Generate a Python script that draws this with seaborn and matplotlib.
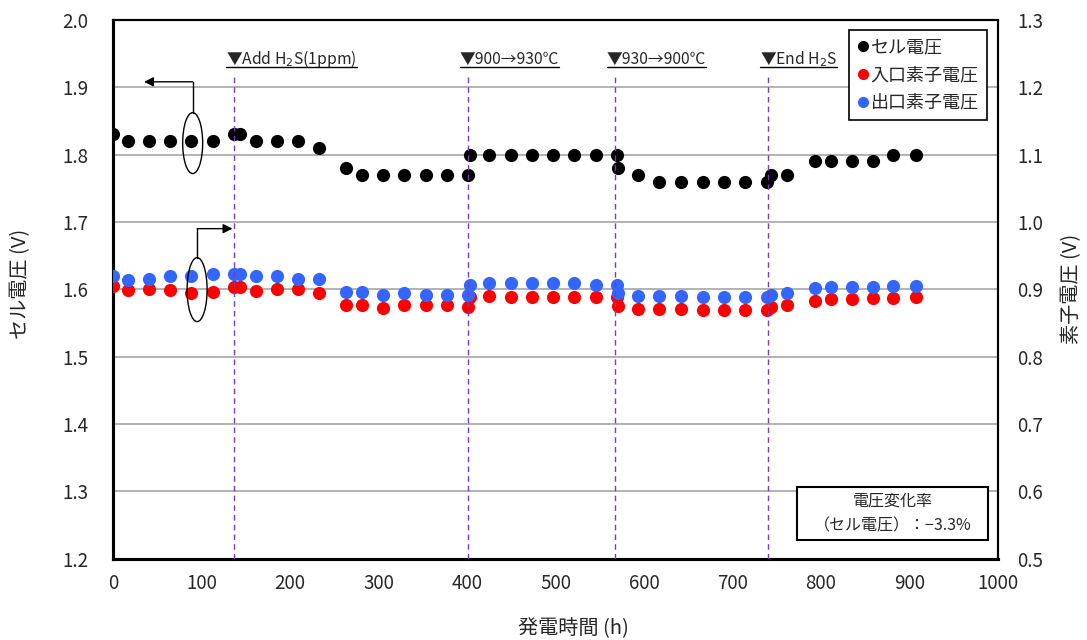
import pandas as pd
import seaborn as sns
import matplotlib.pyplot as plt
import matplotlib.transforms as mtransforms
from matplotlib.lines import Line2D
from matplotlib.patches import Ellipse, Rectangle

# データ
hours = [0, 17, 41, 64, 88, 113, 137, 143, 162, 185, 209, 233,
         263, 281, 305, 329, 354, 377, 401,
         403, 425, 450, 473, 497, 521, 546, 569,
         571, 593, 617, 642, 667, 690, 714, 739,
         744, 762,
         793, 811, 835, 859, 882, 907]
cell_v = [1.83, 1.82, 1.82, 1.82, 1.82, 1.82, 1.83, 1.83, 1.82, 1.82, 1.82, 1.81,
          1.78, 1.77, 1.77, 1.77, 1.77, 1.77, 1.77,
          1.80, 1.80, 1.80, 1.80, 1.80, 1.80, 1.80, 1.80,
          1.78, 1.77, 1.76, 1.76, 1.76, 1.76, 1.76, 1.76,
          1.77, 1.77,
          1.79, 1.79, 1.79, 1.79, 1.80, 1.80]
inlet_v = [0.905, 0.899, 0.900, 0.899, 0.895, 0.896, 0.904, 0.904, 0.898, 0.901, 0.901, 0.895,
           0.877, 0.876, 0.872, 0.876, 0.876, 0.876, 0.873,
           0.889, 0.890, 0.889, 0.889, 0.889, 0.889, 0.889, 0.888,
           0.875, 0.871, 0.871, 0.871, 0.869, 0.869, 0.869, 0.869,
           0.873, 0.877,
           0.883, 0.885, 0.885, 0.887, 0.887, 0.889]
outlet_v = [0.919, 0.914, 0.916, 0.920, 0.920, 0.922, 0.922, 0.922, 0.919, 0.920, 0.916, 0.915,
            0.896, 0.896, 0.892, 0.894, 0.892, 0.892, 0.892,
            0.907, 0.909, 0.909, 0.909, 0.909, 0.909, 0.906, 0.907,
            0.895, 0.890, 0.890, 0.890, 0.888, 0.888, 0.888, 0.888,
            0.892, 0.895,
            0.902, 0.904, 0.904, 0.904, 0.905, 0.905]

event_hours = [137, 401, 567, 740]
event_labels = ['▼Add H$_2$S(1ppm)', '▼900→930℃', '▼930→900℃', '▼End H$_2$S']

x_ticks = list(range(0, 1001, 100))
left_ticks = [1.2, 1.3, 1.4, 1.5, 1.6, 1.7, 1.8, 1.9, 2.0]
right_ticks = [0.5, 0.6, 0.7, 0.8, 0.9, 1.0, 1.1, 1.2, 1.3]

df = pd.DataFrame({'h': hours, 'cell': cell_v, 'inlet': inlet_v, 'outlet': outlet_v})

sns.set_style('white')
plt.rcParams['font.family'] = ['Noto Sans CJK JP', 'DejaVu Sans']

fig, ax = plt.subplots(figsize=(10.87, 6.4), dpi=100)
fig.subplots_adjust(left=0.104, right=0.918, top=0.969, bottom=0.127)
ax2 = ax.twinx()

sns.scatterplot(data=df, x='h', y='cell', ax=ax, color='black', s=90, linewidth=0, zorder=3)
sns.scatterplot(data=df, x='h', y='inlet', ax=ax2, color='#FF0000', s=90, linewidth=0, zorder=3)
sns.scatterplot(data=df, x='h', y='outlet', ax=ax2, color='#3366FF', s=90, linewidth=0, zorder=4)

ax.set_xlim(0, 1000)
ax.set_ylim(1.2, 2.0)
ax2.set_ylim(0.5, 1.3)
ax.set_xticks(x_ticks)
ax.set_yticks(left_ticks)
ax2.set_yticks(right_ticks)
ax.set_yticklabels([f'{v:.1f}' for v in left_ticks])
ax2.set_yticklabels([f'{v:.1f}' for v in right_ticks])
ax.tick_params(axis='x', length=0, pad=10, labelsize=13.5)
ax.tick_params(axis='y', length=0, pad=18, labelsize=13.5)
ax2.tick_params(axis='y', length=0, pad=14, labelsize=13.5)

ax.grid(axis='y', color='#A6A6A6', linewidth=1.2)
ax.set_axisbelow(True)
ax2.grid(False)

for a in (ax, ax2):
    for s in a.spines.values():
        s.set_color('black')
        s.set_linewidth(1.5)
    a.spines['left'].set_linewidth(2.2)
    a.spines['bottom'].set_linewidth(2.2)

ax.set_xlabel('発電時間 (h)', fontsize=14.5)
ax.xaxis.set_label_coords(0.52, -0.11)
ax.set_ylabel('セル電圧 (V)', fontsize=14.5)
ax.yaxis.set_label_coords(-0.093, 0.51)
ax2.set_ylabel('素子電圧 (V)', fontsize=14.5)
ax2.yaxis.set_label_coords(1.072, 0.5)

# イベント線とラベル
bt = mtransforms.blended_transform_factory(ax2.transData, ax2.transAxes)
txt_trans = mtransforms.offset_copy(bt, fig=fig, x=-8, y=0, units='dots')
ev_texts = []
for h, lab in zip(event_hours, event_labels):
    ax2.axvline(h, ymin=0, ymax=0.902, color='#7A3DB8', linestyle=(0, (4, 3)), linewidth=1, zorder=6)
    t = ax2.text(h, 0.918, lab, transform=txt_trans, ha='left', va='baseline', fontsize=11.3, zorder=6)
    ev_texts.append((h, t))

# 凡例
handles = [Line2D([], [], marker='o', ls='', color=c, markersize=7)
           for c in ['black', '#FF0000', '#3366FF']]
leg = ax2.legend(handles, ['セル電圧', '入口素子電圧', '出口素子電圧'], loc='upper right',
                 bbox_to_anchor=(0.9876, 0.9814), borderaxespad=0, fontsize=13,
                 handlelength=0.6, handletextpad=0.15, labelspacing=0.55, borderpad=0.45,
                 frameon=True, fancybox=False, framealpha=1, edgecolor='black')
leg.get_frame().set_linewidth(1.2)
leg.set_zorder(10)

# 楕円と矢印
ax2.add_patch(Ellipse((90, 1.817), 22.6, 0.0905, transform=ax.transData,
                      fill=False, edgecolor='black', linewidth=1, zorder=7))
ax2.plot([90, 90], [1.862, 1.908], color='black', linewidth=1, transform=ax.transData, zorder=7)
ax2.annotate('', xy=(35, 1.908), xytext=(90, 1.908), xycoords=ax.transData, textcoords=ax.transData,
             arrowprops=dict(arrowstyle='-|>', color='black', lw=1, mutation_scale=14,
                             shrinkA=0, shrinkB=0), zorder=7)
ax2.add_patch(Ellipse((95, 1.5995), 22.6, 0.095, transform=ax.transData,
                      fill=False, edgecolor='black', linewidth=1, zorder=7))
ax2.plot([95, 95], [1.647, 1.690], color='black', linewidth=1, transform=ax.transData, zorder=7)
ax2.annotate('', xy=(135, 1.690), xytext=(95, 1.690), xycoords=ax.transData, textcoords=ax.transData,
             arrowprops=dict(arrowstyle='-|>', color='black', lw=1, mutation_scale=14,
                             shrinkA=0, shrinkB=0), zorder=7)

# 電圧変化率ボックス
ax2.add_patch(Rectangle((0.773, 0.035), 0.216, 0.099, transform=ax2.transAxes,
                        fill=True, facecolor='white', edgecolor='black', linewidth=1.5, zorder=8))
ax2.text(0.881, 0.084, '電圧変化率\n（セル電圧）：−3.3%', transform=ax2.transAxes,
         ha='center', va='center', fontsize=11.5, linespacing=1.6, zorder=9)

# ラベルの下線
fig.canvas.draw()
renderer = fig.canvas.get_renderer()
inv = fig.transFigure.inverted()
for h, t in ev_texts:
    bb = t.get_window_extent(renderer)
    y_base = txt_trans.transform((h, 0.918))[1] - 3
    (x0, y0) = inv.transform((bb.x0, y_base))
    (x1, _) = inv.transform((bb.x1, y_base))
    fig.add_artist(Line2D([x0, x1], [y0, y0], transform=fig.transFigure, color='black', linewidth=1))

fig.savefig('out.png', dpi=100)
